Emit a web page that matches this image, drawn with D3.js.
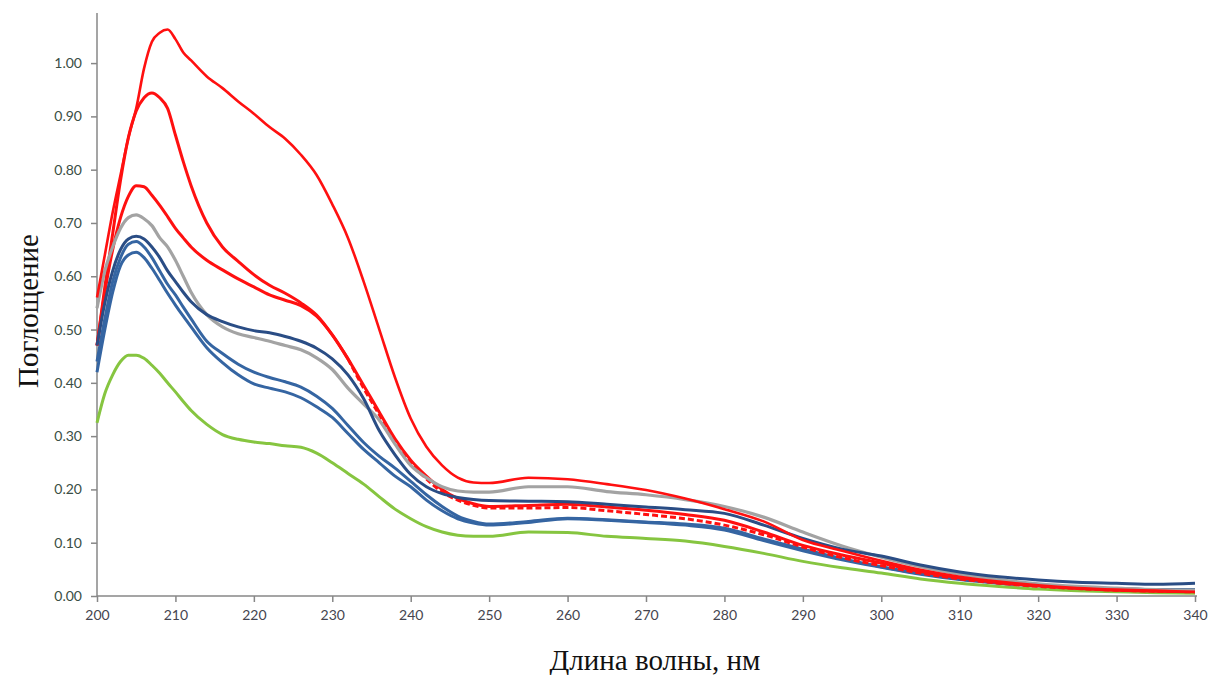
<!DOCTYPE html>
<html><head><meta charset="utf-8">
<script src="https://cdn.jsdelivr.net/npm/d3@7"></script>
<style>
html,body{margin:0;padding:0;background:#fff;}
svg{display:block;}
</style></head>
<body>
<svg id="chart" width="1212" height="675"></svg>
<script>
const wavelengths = [200,201,202,203,204,205,206,207,208,209,210,211,212,214,216,218,220,222,224,226,228,230,232,234,236,238,240,242,244,246,248,250,255,260,265,270,275,280,285,290,295,300,305,310,315,320,325,330,335,340];

const red1 = [0.56,0.64,0.72,0.79,0.86,0.915,0.99,1.04,1.057,1.063,1.045,1.02,1.005,0.975,0.953,0.928,0.905,0.88,0.858,0.828,0.79,0.735,0.672,0.59,0.5,0.41,0.333,0.28,0.245,0.222,0.213,0.212,0.222,0.219,0.21,0.199,0.183,0.163,0.14,0.105,0.085,0.066,0.049,0.036,0.027,0.02,0.015,0.012,0.01,0.008];
const red2 = [0.47,0.58,0.68,0.78,0.86,0.91,0.935,0.944,0.935,0.915,0.865,0.815,0.77,0.70,0.655,0.628,0.603,0.583,0.568,0.55,0.527,0.49,0.445,0.395,0.345,0.295,0.255,0.225,0.2,0.183,0.173,0.168,0.17,0.172,0.167,0.161,0.153,0.142,0.12,0.095,0.077,0.062,0.046,0.034,0.025,0.019,0.014,0.011,0.009,0.008];
const red3 = [0.47,0.57,0.65,0.71,0.75,0.77,0.768,0.752,0.733,0.712,0.69,0.672,0.655,0.63,0.612,0.595,0.58,0.565,0.555,0.545,0.525,0.49,0.445,0.39,0.34,0.29,0.25,0.22,0.195,0.18,0.17,0.165,0.165,0.166,0.16,0.153,0.145,0.133,0.115,0.092,0.072,0.057,0.043,0.032,0.024,0.018,0.014,0.011,0.009,0.008];
const gray1 = [0.54,0.61,0.655,0.69,0.71,0.715,0.708,0.695,0.672,0.655,0.63,0.6,0.57,0.528,0.505,0.492,0.485,0.478,0.47,0.462,0.447,0.425,0.39,0.36,0.33,0.285,0.245,0.222,0.205,0.197,0.195,0.195,0.205,0.205,0.196,0.19,0.181,0.168,0.148,0.12,0.094,0.073,0.055,0.041,0.031,0.023,0.018,0.015,0.012,0.011];
const blue1 = [0.47,0.55,0.61,0.65,0.67,0.675,0.67,0.655,0.635,0.61,0.59,0.57,0.552,0.528,0.515,0.505,0.498,0.494,0.487,0.478,0.465,0.445,0.415,0.37,0.31,0.265,0.228,0.205,0.192,0.185,0.181,0.179,0.178,0.177,0.172,0.167,0.162,0.155,0.133,0.108,0.088,0.075,0.058,0.045,0.036,0.030,0.026,0.024,0.022,0.024];
const blue2 = [0.44,0.52,0.59,0.635,0.66,0.665,0.655,0.635,0.61,0.585,0.565,0.542,0.52,0.478,0.455,0.435,0.42,0.41,0.402,0.392,0.375,0.352,0.32,0.288,0.262,0.24,0.215,0.19,0.168,0.15,0.14,0.135,0.14,0.146,0.143,0.139,0.135,0.127,0.107,0.088,0.07,0.055,0.042,0.032,0.025,0.02,0.016,0.014,0.012,0.012];
const blue3 = [0.42,0.5,0.57,0.62,0.64,0.645,0.635,0.615,0.592,0.568,0.546,0.525,0.505,0.466,0.438,0.415,0.398,0.39,0.383,0.372,0.355,0.335,0.305,0.275,0.25,0.225,0.205,0.18,0.16,0.145,0.137,0.133,0.138,0.145,0.142,0.138,0.133,0.124,0.104,0.085,0.068,0.054,0.041,0.031,0.024,0.019,0.015,0.013,0.012,0.011];
const green1 = [0.325,0.38,0.415,0.44,0.452,0.452,0.446,0.433,0.418,0.4,0.383,0.365,0.348,0.322,0.303,0.294,0.289,0.286,0.282,0.279,0.268,0.25,0.23,0.21,0.186,0.163,0.145,0.13,0.12,0.114,0.112,0.112,0.12,0.119,0.112,0.108,0.103,0.093,0.08,0.065,0.053,0.043,0.032,0.024,0.018,0.013,0.01,0.008,0.006,0.005];

const xTicks = [200,210,220,230,240,250,260,270,280,290,300,310,320,330,340];
const yTicks = [0,0.1,0.2,0.3,0.4,0.5,0.6,0.7,0.8,0.9,1.0];

// dashStart: index in wavelengths from which the trace is drawn dashed
const series = [
  {values: green1, color: "#86c540", width: 3, dashStart: null},
  {values: blue3, color: "#3565a2", width: 3, dashStart: null},
  {values: blue2, color: "#3565a2", width: 3, dashStart: null},
  {values: red3, color: "#ff1010", width: 3, dashStart: 22},
  {values: red2, color: "#ff1010", width: 3, dashStart: null},
  {values: gray1, color: "#a3a3a3", width: 3.2, dashStart: null},
  {values: blue1, color: "#2a4d85", width: 3, dashStart: null},
  {values: red1, color: "#ff1010", width: 2.6, dashStart: null}
];

const svg = d3.select("#chart");
const x = d3.scaleLinear().domain([200, 340]).range([97, 1195]);
const y = d3.scaleLinear().domain([0, 1.094]).range([596, 13]);

const axisColor = "#878787";
const tickFont = "Lato, 'Open Sans', sans-serif";
const xAxis = svg.append("g").attr("transform", "translate(0,596)")
  .call(d3.axisBottom(x).tickValues(xTicks).tickFormat(d3.format("d")).tickSizeOuter(0).tickSize(6).tickPadding(8));
xAxis.select(".domain").attr("stroke", axisColor).attr("stroke-width", 1.5).attr("d", "M97,0H1197");
xAxis.selectAll(".tick line").attr("stroke", axisColor).attr("stroke-width", 1.5);
xAxis.selectAll(".tick text").attr("fill", "#45454f").style("font-family", tickFont).style("font-size", "14px");

const yAxis = svg.append("g").attr("transform", "translate(97,0)")
  .call(d3.axisLeft(y).tickValues(yTicks).tickFormat(d3.format(".2f")).tickSizeOuter(0).tickSize(6).tickPadding(9));
yAxis.select(".domain").attr("stroke", axisColor).attr("stroke-width", 1.5).attr("d", "M0,596V13");
yAxis.selectAll(".tick line").attr("stroke", axisColor).attr("stroke-width", 1.5);
yAxis.selectAll(".tick text").attr("fill", "#3a4e44").style("font-family", tickFont).style("font-size", "14px");

const makeLine = (from, to) => d3.line()
  .defined((d, i) => i >= from && i <= to)
  .x((d, i) => x(wavelengths[i]))
  .y(d => y(d))
  .curve(d3.curveMonotoneX);

const segments = [];
series.forEach(s => {
  const n = s.values.length - 1;
  if (s.dashStart == null) {
    segments.push({s, d: makeLine(0, n)(s.values), dash: null});
  } else {
    segments.push({s, d: makeLine(0, s.dashStart)(s.values), dash: null});
    segments.push({s, d: makeLine(s.dashStart, n)(s.values), dash: "6,3"});
  }
});

svg.append("g").selectAll("path").data(segments).join("path")
  .attr("d", d => d.d)
  .attr("fill", "none")
  .attr("stroke", d => d.s.color)
  .attr("stroke-width", d => d.s.width)
  .attr("stroke-linejoin", "round")
  .attr("stroke-dasharray", d => d.dash);

svg.append("text")
  .attr("transform", "translate(38,311) rotate(-90)")
  .attr("text-anchor", "middle")
  .style("font-family", "'Liberation Serif', 'Times New Roman', serif")
  .style("font-size", "29px")
  .attr("fill", "#111")
  .text("Поглощение");

svg.append("text")
  .attr("x", 655).attr("y", 670)
  .attr("text-anchor", "middle")
  .style("font-family", "'Liberation Serif', 'Times New Roman', serif")
  .style("font-size", "29px")
  .attr("fill", "#111")
  .text("Длина волны, нм");
</script>
</body></html>
